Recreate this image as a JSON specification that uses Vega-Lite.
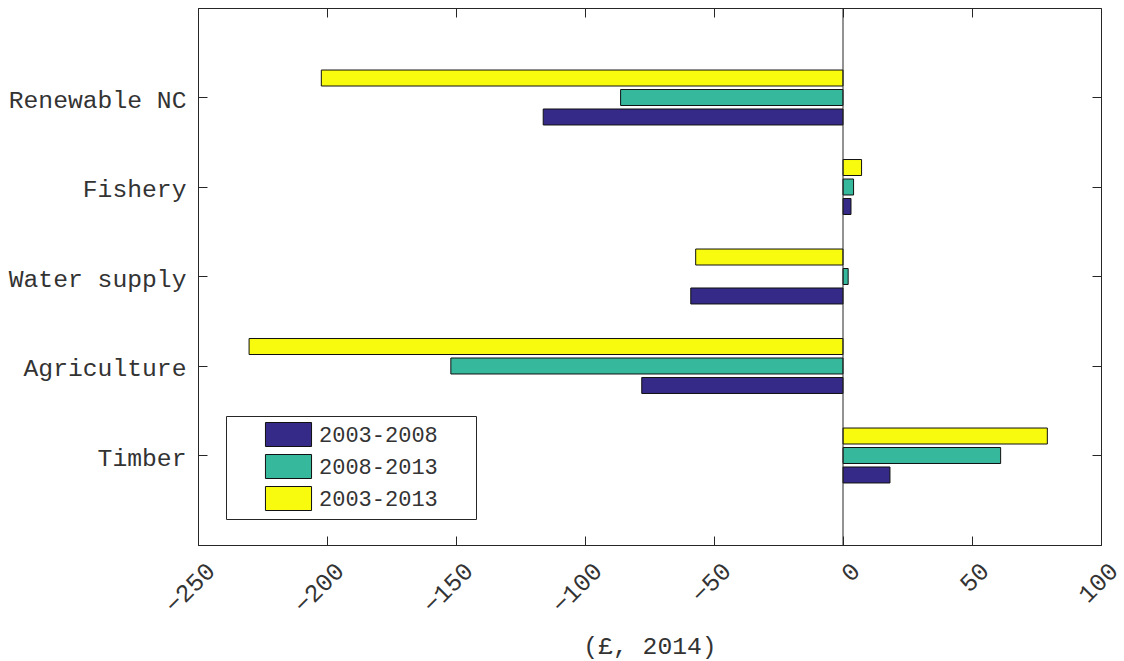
{
  "$schema": "https://vega.github.io/schema/vega-lite/v6.json",
  "width": 903,
  "height": 537,
  "autosize": "none",
  "padding": {"left": 198, "top": 8, "right": 23, "bottom": 116},
  "background": "white",
  "config": {
    "font": "Liberation Mono",
    "view": {"stroke": "#262626", "strokeWidth": 1},
    "axis": {
      "domainColor": "#262626",
      "tickColor": "#262626",
      "labelColor": "#333333",
      "titleColor": "#333333",
      "grid": false,
      "labelFont": "Liberation Mono",
      "titleFont": "Liberation Mono",
      "labelFontSize": 24.7,
      "titleFontSize": 24.7,
      "titleFontWeight": "normal"
    }
  },
  "datasets": {
    "bars": [
      {"category": "Renewable NC", "period": "2003-2008", "value": -116.2},
      {"category": "Renewable NC", "period": "2008-2013", "value": -86.2},
      {"category": "Renewable NC", "period": "2003-2013", "value": -202.2},
      {"category": "Fishery", "period": "2003-2008", "value": 3.1},
      {"category": "Fishery", "period": "2008-2013", "value": 4.1},
      {"category": "Fishery", "period": "2003-2013", "value": 7.2},
      {"category": "Water supply", "period": "2003-2008", "value": -59.0},
      {"category": "Water supply", "period": "2008-2013", "value": 2.0},
      {"category": "Water supply", "period": "2003-2013", "value": -57.1},
      {"category": "Agriculture", "period": "2003-2008", "value": -78.0},
      {"category": "Agriculture", "period": "2008-2013", "value": -152.0},
      {"category": "Agriculture", "period": "2003-2013", "value": -230.2},
      {"category": "Timber", "period": "2003-2008", "value": 18.2},
      {"category": "Timber", "period": "2008-2013", "value": 61.1},
      {"category": "Timber", "period": "2003-2013", "value": 79.2}
    ],
    "zero": [{"v": 0}]
  },
  "resolve": {"axis": {"x": "independent", "y": "independent"}},
  "layer": [
    {
      "data": {"name": "bars"},
      "mark": {"type": "bar", "stroke": "#111111", "strokeWidth": 1},
      "encoding": {
        "x": {
          "field": "value", "type": "quantitative",
          "scale": {"domain": [-250, 100], "nice": false, "zero": false},
          "axis": {
            "orient": "bottom",
            "values": [-250, -200, -150, -100, -50, 0, 50, 100],
            "tickSize": -9,
            "labelAngle": 315,
            "labelAlign": "right",
            "labelBaseline": "middle",
            "labelPadding": 31,
            "labelOffset": 13,
            "title": "(£, 2014)",
            "titlePadding": 16
          }
        },
        "y": {
          "field": "category", "type": "nominal",
          "sort": ["Renewable NC", "Fishery", "Water supply", "Agriculture", "Timber"],
          "scale": {"paddingInner": 0.35, "paddingOuter": 0.675},
          "axis": {"orient": "left", "tickSize": -9, "labelPadding": 21, "labelOffset": 3, "title": null}
        },
        "yOffset": {
          "field": "period", "type": "nominal",
          "sort": ["2003-2013", "2008-2013", "2003-2008"],
          "scale": {"paddingInner": 0.18, "paddingOuter": 0.0825}
        },
        "color": {
          "field": "period", "type": "nominal",
          "scale": {"domain": ["2003-2008", "2008-2013", "2003-2013"], "range": ["#352a87", "#36b89d", "#f9fb0e"]},
          "legend": {
            "orient": "none",
            "legendX": 28,
            "legendY": 408,
            "title": null,
            "padding": 6,
            "strokeColor": "#262626",
            "fillColor": "white",
            "symbolType": "M-1.92,-1H1.92V1H-1.92Z",
            "symbolSize": 576,
            "symbolStrokeColor": "#111111",
            "symbolStrokeWidth": 1,
            "symbolOpacity": 1,
            "symbolOffset": 44,
            "labelOffset": 18,
            "labelFont": "Liberation Mono",
            "labelFontSize": 22,
            "labelColor": "#333333",
            "labelLimit": 400,
            "rowPadding": 3,
            "labelExpr": "datum.label + '\u2800\u2800'"
          }
        }
      }
    },
    {
      "data": {"name": "zero"},
      "mark": {"type": "rule", "color": "#262626", "strokeWidth": 1},
      "encoding": {
        "x": {"field": "v", "type": "quantitative", "axis": null}
      }
    },
    {
      "data": {"name": "bars"},
      "mark": {"type": "point", "opacity": 0},
      "encoding": {
        "x": {
          "field": "value", "type": "quantitative",
          "axis": {"orient": "top", "values": [-250, -200, -150, -100, -50, 0, 50, 100], "tickSize": -9, "labels": false, "domain": false, "title": null}
        },
        "y": {
          "field": "category", "type": "nominal",
          "sort": ["Renewable NC", "Fishery", "Water supply", "Agriculture", "Timber"],
          "axis": {"orient": "right", "tickSize": -9, "labels": false, "domain": false, "title": null}
        }
      }
    }
  ]
}
